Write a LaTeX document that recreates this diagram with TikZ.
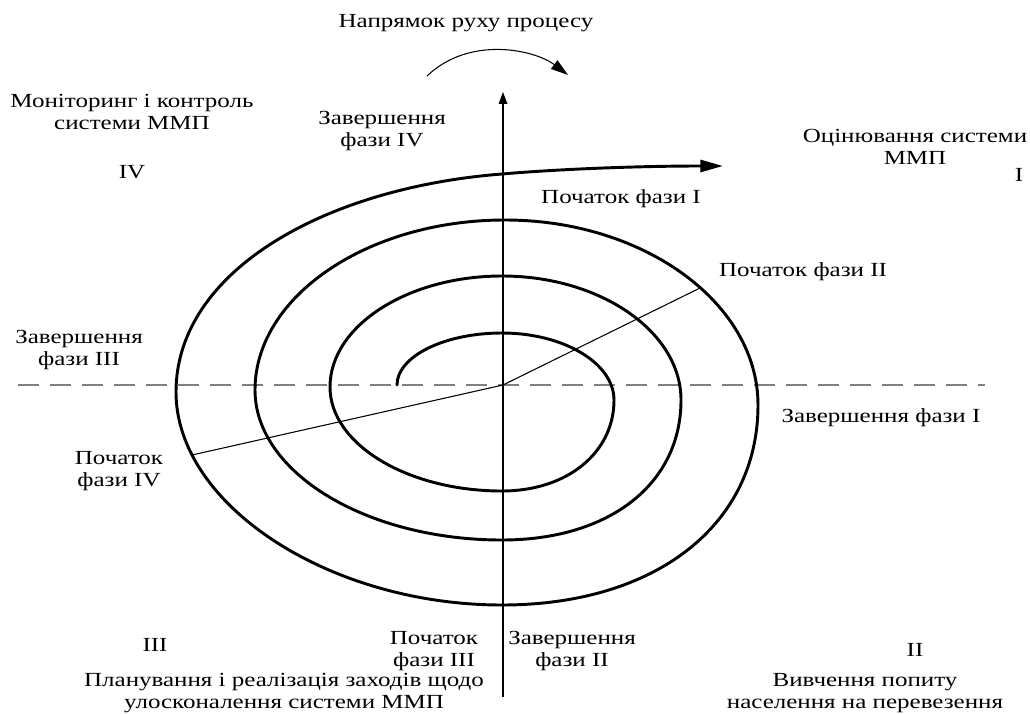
\documentclass[tikz,border=0pt]{standalone}
\usepackage{fontspec}
\setmainfont{Liberation Serif}[FakeStretch=1.25]
\usetikzlibrary{arrows.meta}
\definecolor{dashgray}{HTML}{808080}
\begin{document}
\begin{tikzpicture}[x=0.75pt,y=-0.75pt,
  lbl/.style={inner sep=0pt, align=center, font=\fontsize{15pt}{17pt}\selectfont},
  spiralline/.style={line width=2.2pt, line cap=round, line join=round},
  thinline/.style={line width=0.8pt},
  axisline/.style={line width=0.9pt},
  dashline/.style={draw=dashgray, line width=1pt, dash pattern=on 16pt off 8pt}]
\useasboundingbox (0,0) rectangle (1030,713);
% reference points
\coordinate (O) at (503,385);
\coordinate (axtop) at (503,92);
\coordinate (axbot) at (503,697);
\coordinate (dl) at (18,385);
\coordinate (dr) at (985,385);
\coordinate (p2) at (700,288);
\coordinate (p4) at (192,455);
\coordinate (c1) at (427,76);
\coordinate (c2) at (568,75);
% spiral key points
\coordinate (S0) at (397,385);
\coordinate (T1) at (502,333);
\coordinate (R1) at (614,400);
\coordinate (B1) at (502,491);
\coordinate (L1) at (330,387);
\coordinate (T2) at (502,276);
\coordinate (R2) at (681,400);
\coordinate (B2) at (502,540);
\coordinate (L2) at (255,390);
\coordinate (T3) at (505,220);
\coordinate (R3) at (758,405);
\coordinate (B3) at (502,605);
\coordinate (L3) at (176,392);
\coordinate (T4) at (502,174);
\coordinate (E4) at (700,166);
\coordinate (tip) at (723,166);
% dashed horizontal line
\draw[dashline] (dl) -- (dr);
% vertical axis
\draw[axisline,-{Triangle[length=9pt,width=6.5pt]}] (axbot) -- (axtop);
% radial thin lines
\draw[thinline] (O) -- (p2);
\draw[thinline] (O) -- (p4);
% spiral
\draw[spiralline,-{Triangle[length=17pt,width=9pt]}]
  (S0) .. controls (397,356.4) and (444.3,333) .. (T1)
       .. controls (563.6,333) and (614,363.2) .. (R1)
       .. controls (614,452.8) and (567,491) .. (B1)
       .. controls (407.4,491) and (330,444.2) .. (L1)
       .. controls (330,326) and (407.4,276) .. (T2)
       .. controls (600.5,276) and (681,331.8) .. (R2)
       .. controls (681,484) and (609.4,540) .. (B2)
       .. controls (366.2,540) and (255,472.5) .. (L2)
       .. controls (255,296.5) and (367.5,220) .. (T3)
       .. controls (644.2,220) and (758,303.3) .. (R3)
       .. controls (758,525) and (655.6,605) .. (B3)
       .. controls (329.2,605) and (176,504.9) .. (L3)
       .. controls (176,272) and (323,188) .. (T4)
       .. controls (560,169) and (640,166) .. (E4)
       -- (tip);
% direction arrow
\draw[thinline,-{Triangle[length=13pt,width=8pt]}] (c1) .. controls (470,35) and (535,50) .. (c2);
% labels
\node[lbl] (dir) at (466,23) {Напрямок руху процесу};
\node[lbl] (mon) at (132,112) {Моніторинг і контроль\\системи ММП};
\node[lbl] (iv) at (132,172) {IV};
\node[lbl] (end4) at (382,131) {Завершення\\фази IV};
\node[lbl] (eval) at (915,147) {Оцінювання системи\\ММП};
\node[lbl] (i) at (1019,175) {I};
\node[lbl] (start1) at (621,199) {Початок фази I};
\node[lbl] (start2) at (803,272) {Початок фази II};
\node[lbl] (end3) at (79,350) {Завершення\\фази III};
\node[lbl] (start4) at (119,471) {Початок\\фази IV};
\node[lbl] (end1) at (881,418) {Завершення фази I};
\node[lbl] (iii) at (155,645) {III};
\node[lbl] (start3) at (434,651) {Початок\\фази III};
\node[lbl] (plan) at (284,693) {Планування і реалізація заходів щодо\\улосконалення системи ММП};
\node[lbl] (end2) at (572,651) {Завершення\\фази II};
\node[lbl] (ii) at (915,650) {II};
\node[lbl] (study) at (865,693) {Вивчення попиту\\населення на перевезення};
\end{tikzpicture}
\end{document}
